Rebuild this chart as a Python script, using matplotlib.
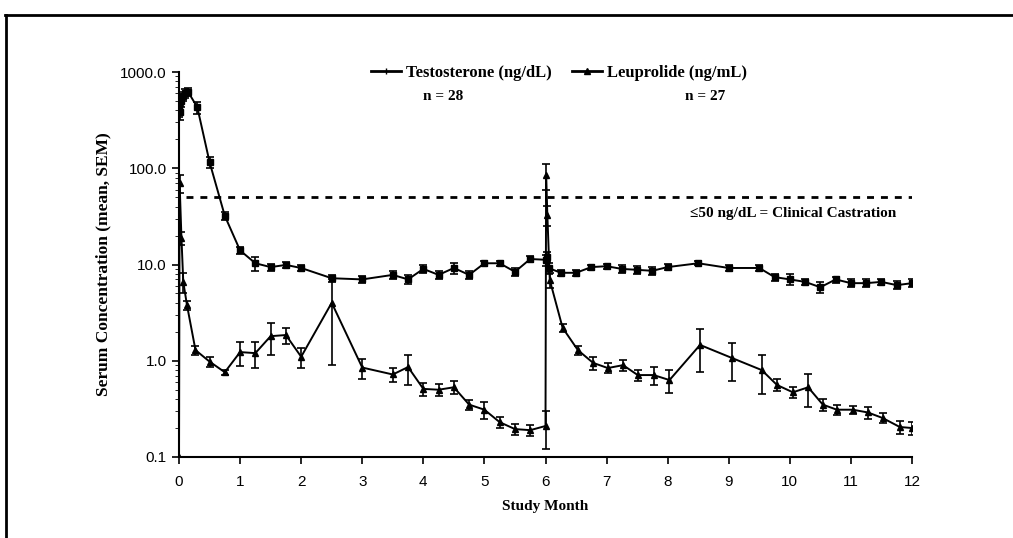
import matplotlib
matplotlib.use("Agg")
import matplotlib.pyplot as plt
from matplotlib.lines import Line2D
from matplotlib.ticker import FixedLocator, LogLocator, NullFormatter

# Testosterone (ng/dL), mean and SEM by study month
t_month = [0, 0.02, 0.04, 0.07, 0.1, 0.15, 0.3, 0.5, 0.75, 1.0, 1.25, 1.5, 1.75, 2.0,
           2.5, 3.0, 3.5, 3.75, 4.0, 4.25, 4.5, 4.75, 5.0, 5.25, 5.5, 5.75, 6.0, 6.02,
           6.05, 6.25, 6.5, 6.75, 7.0, 7.25, 7.5, 7.75, 8.0, 8.5, 9.0, 9.5, 9.75, 10.0,
           10.25, 10.5, 10.75, 11.0, 11.25, 11.5, 11.75, 12.0]
t_mean = [420, 380, 500, 560, 600, 620, 430, 116, 32, 14, 10.3, 9.4, 9.9, 9.2,
          7.2, 7.0, 7.8, 7.0, 9.0, 7.8, 9.2, 7.8, 10.3, 10.3, 8.4, 11.4, 11.2, 12.0,
          9.2, 8.2, 8.2, 9.4, 9.6, 9.0, 8.8, 8.6, 9.4, 10.3, 9.2, 9.2, 7.4, 7.0,
          6.6, 5.8, 7.0, 6.4, 6.4, 6.6, 6.1, 6.4]
t_sem = [80, 60, 70, 60, 60, 60, 60, 15, 3, 1.2, 1.8, 0.8, 0.8, 0.6,
         0.6, 0.6, 0.8, 0.8, 0.8, 0.8, 1.2, 0.8, 0.6, 0.6, 0.8, 0.8, 1.5, 1.5,
         1.2, 0.6, 0.6, 0.6, 0.6, 0.8, 0.8, 0.8, 0.7, 0.5, 0.6, 0.6, 0.6, 0.9,
         0.5, 0.8, 0.5, 0.6, 0.6, 0.5, 0.6, 0.6]

# Leuprolide (ng/mL), mean and SEM by study month
l_month = [0, 0.01, 0.04, 0.07, 0.13, 0.27, 0.5, 0.75, 1.0, 1.25, 1.5, 1.75, 2.0,
           2.5, 3.0, 3.5, 3.75, 4.0, 4.25, 4.5, 4.75, 5.0, 5.25, 5.5, 5.75, 6.0,
           6.01, 6.03, 6.07, 6.28, 6.53, 6.78, 7.02, 7.27, 7.51, 7.77, 8.03, 8.53,
           9.05, 9.54, 9.79, 10.05, 10.3, 10.54, 10.77, 11.03, 11.28, 11.52, 11.8, 12.0]
l_mean = [0.1, 70, 19, 6.6, 3.8, 1.29, 0.98, 0.76, 1.23, 1.2, 1.8, 1.85, 1.1,
          4.0, 0.85, 0.72, 0.86, 0.51, 0.5, 0.53, 0.35, 0.31, 0.23, 0.195, 0.19, 0.21,
          85, 33, 6.9, 2.2, 1.29, 0.95, 0.84, 0.9, 0.71, 0.71, 0.63, 1.46,
          1.07, 0.8, 0.56, 0.47, 0.53, 0.35, 0.31, 0.31, 0.29, 0.254, 0.205, 0.2]
l_sem = [0, 15, 3, 1.5, 0.4, 0.15, 0.12, 0.05, 0.35, 0.35, 0.65, 0.35, 0.25,
         3.1, 0.2, 0.12, 0.3, 0.08, 0.07, 0.08, 0.04, 0.06, 0.03, 0.025, 0.025, 0.09,
         25, 8, 1.2, 0.2, 0.15, 0.15, 0.1, 0.12, 0.1, 0.15, 0.17, 0.7,
         0.45, 0.35, 0.08, 0.06, 0.2, 0.05, 0.04, 0.03, 0.04, 0.03, 0.03, 0.03]

castration = 50
y_ticks = [0.1, 1, 10, 100, 1000]
y_labels = ["0.1", "1.0", "10.0", "100.0", "1000.0"]
x_ticks = list(range(0, 13))

serif = "Liberation Serif"
sans = "Liberation Sans"

fig = plt.figure(figsize=(10.13, 5.38), dpi=100)
ax = fig.add_axes([179 / 1013, 1 - 457 / 538, (912 - 179) / 1013, (457 - 72) / 538])

ax.errorbar(t_month, t_mean, yerr=t_sem, color="black", lw=1.4, marker="s", ms=4,
            capsize=3, elinewidth=1.2, capthick=1.2)
ax.errorbar(l_month, l_mean, yerr=l_sem, color="black", lw=1.4, marker="^", ms=4,
            capsize=3, elinewidth=1.2, capthick=1.2)

ax.axhline(castration, xmin=0.01, xmax=1.0, color="black", lw=2, ls=(0, (2.5, 2.5)))
ax.text(11.75, 34, "\u226450 ng/dL = Clinical Castration", ha="right", va="center",
        fontsize=11, fontweight="bold", family=serif)

ax.set_yscale("log")
ax.set_ylim(0.1, 1000)
ax.set_xlim(0, 12)
ax.yaxis.set_major_locator(FixedLocator(y_ticks))
ax.set_yticklabels(y_labels)
ax.yaxis.set_minor_locator(LogLocator(base=10, subs=range(2, 10)))
ax.yaxis.set_minor_formatter(NullFormatter())
ax.set_xticks(x_ticks)
ax.tick_params(axis="both", direction="out", length=5, width=1.2, labelsize=11)
ax.tick_params(axis="x", pad=8)
ax.tick_params(axis="y", pad=4)
ax.tick_params(axis="y", which="minor", length=3)
for lab in ax.get_xticklabels() + ax.get_yticklabels():
    lab.set_family(sans)

ax.spines["top"].set_visible(False)
ax.spines["right"].set_visible(False)
ax.spines["left"].set_linewidth(1.5)
ax.spines["bottom"].set_linewidth(1.5)

ax.set_xlabel("Study Month", fontsize=11, fontweight="bold", family=serif, labelpad=8)
ax.set_ylabel("Serum Concentration (mean, SEM)", fontsize=12.5, fontweight="bold",
              family=serif, labelpad=6)

handles = [Line2D([], [], color="black", lw=2, marker="|", ms=5),
           Line2D([], [], color="black", lw=2, marker="^", ms=4)]
ax.legend(handles, ["Testosterone (ng/dL)", "Leuprolide (ng/mL)"], ncol=2,
          loc="center", bbox_to_anchor=(559 / 1013, 1 - 73 / 538),
          bbox_transform=fig.transFigure, frameon=False, handlelength=1.8,
          handletextpad=0.3, columnspacing=1.2,
          prop={"family": serif, "weight": "bold", "size": 12})
fig.text(443 / 1013, 1 - 97 / 538, "n = 28", ha="center", va="center",
         fontsize=11, fontweight="bold", family=serif)
fig.text(705 / 1013, 1 - 97 / 538, "n = 27", ha="center", va="center",
         fontsize=11, fontweight="bold", family=serif)

# outer frame lines (top and left) as in the scanned page
fig.add_artist(Line2D([5 / 1013, 1], [1 - 15 / 538, 1 - 15 / 538], color="black", lw=2))
fig.add_artist(Line2D([6 / 1013, 6 / 1013], [0, 1 - 15 / 538], color="black", lw=2))

fig.savefig("out.png", dpi=100)
